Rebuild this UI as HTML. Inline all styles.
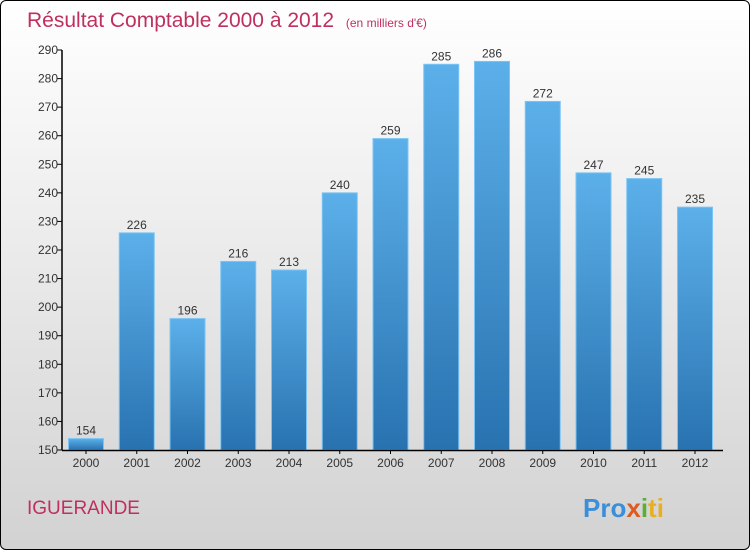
<!DOCTYPE html>
<html><head><meta charset="utf-8"><style>
body{margin:0}
#c{width:748px;height:548px;border:1px solid #000;border-radius:6px;background:linear-gradient(#ffffff,#f2f2f2 30%,#d2d2d2);position:relative;overflow:hidden;font-family:"Liberation Sans",sans-serif}
</style></head><body>
<div id="c">
<svg id="s" width="748" height="548">
<defs><linearGradient id="g" x1="0" y1="0" x2="0" y2="1"><stop offset="0" stop-color="#5cb0ea"/><stop offset="1" stop-color="#2872b0"/></linearGradient></defs>
<text x="26" y="26" font-size="21" fill="#c0305c">Résultat Comptable 2000 à 2012 <tspan font-size="12" dx="6">(en milliers d'€)</tspan></text>
<text x="26" y="513" font-size="19" fill="#c0305c">IGUERANDE</text>
<text x="582" y="516" font-size="26" font-weight="bold"><tspan fill="#3a8fd8">Pro</tspan><tspan fill="#e05a20">x</tspan><tspan fill="#5ab030">i</tspan><tspan fill="#e8b020">ti</tspan></text>
<g id="plot"></g>
</svg>
</div>
<script>
const categories=["2000","2001","2002","2003","2004","2005","2006","2007","2008","2009","2010","2011","2012"];
const values=[154,226,196,216,213,240,259,285,286,272,247,245,235];
const ticks=[150,160,170,180,190,200,210,220,230,240,250,260,270,280,290];
const NS="http://www.w3.org/2000/svg";
const g=document.getElementById('plot');
const y=v=>449-(v-150)*(400/140);
const x=i=>85+i*50.75;
function mk(t,a){const e=document.createElementNS(NS,t);for(const k in a)e.setAttribute(k,a[k]);g.appendChild(e);return e;}
ticks.forEach(t=>{
 const l=mk('line',{x1:56,x2:61,y1:y(t),y2:y(t),stroke:'#000'});
 
 
 const tx=mk('text',{x:57,y:y(t)+4,'font-size':12,'text-anchor':'end',fill:'#333'});
 tx.textContent=t;
 
 
});
values.forEach((v,i)=>{
 const r=mk('rect',{x:x(i)-17.5,y:y(v),width:35,height:y(150)-y(v),fill:'url(#g)',stroke:'#7cc4f4','stroke-width':1});
 
 
 const t=mk('text',{x:x(i),y:y(v)-4,'font-size':12,'text-anchor':'middle',fill:'#333'});
 t.textContent=v;
 
 
 const c=mk('text',{x:x(i),y:466,'font-size':12,'text-anchor':'middle',fill:'#333'});
 c.textContent=categories[i];
 
 
 const tk=mk('line',{x1:x(i),x2:x(i),y1:449,y2:453,stroke:'#000'});
 
 
});
const ya=mk('line',{x1:61,x2:61,y1:y(290),y2:449.5,stroke:'#000','stroke-width':1.5});


const xa=mk('line',{x1:61,x2:722,y1:449.5,y2:449.5,stroke:'#000','stroke-width':1.5});


</script>
</body></html>
